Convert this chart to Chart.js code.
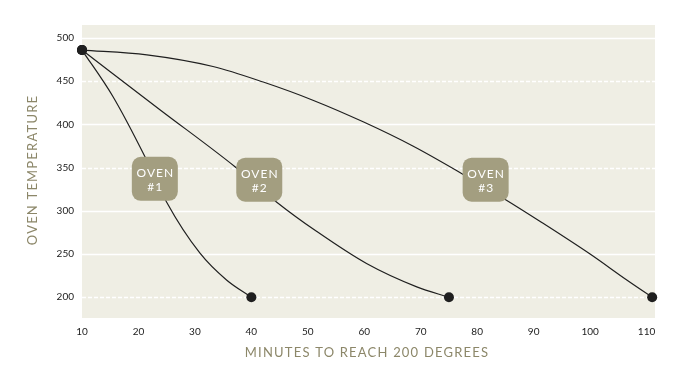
<!DOCTYPE html>
<html><head><meta charset="utf-8">
<script src="https://cdn.jsdelivr.net/npm/chart.js@4.4.1/dist/chart.umd.min.js"></script>
<style>html,body{margin:0;padding:0;background:#fff}#wrap{width:680px;height:383px;position:relative}</style>
</head><body><div id="wrap"><canvas id="c" width="680" height="383"></canvas></div>
<script>
// Tick labels
const xTicks = [10, 20, 30, 40, 50, 60, 70, 80, 90, 100, 110];
const yTicks = [200, 250, 300, 350, 400, 450, 500];
const dashedGrid = [200, 350, 450];

// Series (minutes, temperature)
const oven1X = [10, 15.5, 21.2, 25, 30.9, 35.6, 40];
const oven1Y = [486, 432, 362, 310, 251, 220, 200];
const oven2X = [10, 23.8, 37.1, 44.5, 51.6, 60.4, 69.3, 75];
const oven2Y = [486, 417, 351, 310, 276, 239, 212, 200];
const oven3X = [10, 21.5, 33.2, 42.1, 50.9, 59.8, 68.6, 77.3, 84.9, 91.1, 100, 106.5, 111];
const oven3Y = [486, 480.5, 467, 449, 428, 403, 375, 343, 313.5, 288, 250, 220, 200];

// Label boxes
const boxLine1 = ['OVEN', 'OVEN', 'OVEN'];
const boxLine2 = ['#1', '#2', '#3'];
const boxX = [22.9, 41.4, 81.5];
const boxY = [337, 336, 336];

const xTitle = 'MINUTES TO REACH 200 DEGREES';
const yTitle = 'OVEN TEMPERATURE';

const FONT = 'Lato, "Open Sans", sans-serif';
const toPts = (xs, ys) => xs.map((x, i) => ({x: x, y: ys[i]}));
const endRadius = n => Array.from({length: n}, (_, i) => (i === 0 || i === n - 1) ? 5 : 0);

function ds(xs, ys) {
  return {
    data: toPts(xs, ys),
    showLine: true,
    borderColor: '#1f1f1f',
    borderWidth: 1.2,
    backgroundColor: '#1f1f1f',
    pointBackgroundColor: '#1f1f1f',
    pointBorderWidth: 0,
    pointRadius: endRadius(xs.length),
    pointHoverRadius: endRadius(xs.length),
    cubicInterpolationMode: 'monotone',
    clip: false
  };
}

const decor = {
  id: 'decor',
  beforeDatasetsDraw(chart) {
    const {ctx, chartArea: a, scales: {y}} = chart;
    ctx.save();
    ctx.fillStyle = '#efeee4';
    ctx.fillRect(a.left, a.top, a.right - a.left, a.bottom - a.top);
    ctx.strokeStyle = '#ffffff';
    ctx.lineWidth = 1.5;
    yTicks.forEach(v => {
      const py = Math.round(y.getPixelForValue(v)) + 0.5;
      ctx.setLineDash(dashedGrid.includes(v) ? [4, 2] : []);
      ctx.beginPath();
      ctx.moveTo(a.left, py);
      ctx.lineTo(a.right, py);
      ctx.stroke();
    });
    ctx.restore();
  },
  afterDatasetsDraw(chart) {
    const {ctx, scales: {x, y}} = chart;
    ctx.save();
    boxX.forEach((bx, i) => {
      const cx = x.getPixelForValue(bx);
      const cy = y.getPixelForValue(boxY[i]);
      const w = 46, h = 44;
      ctx.fillStyle = '#a39e80';
      ctx.beginPath();
      ctx.roundRect(cx - w / 2, cy - h / 2, w, h, 9);
      ctx.fill();
      ctx.fillStyle = '#ffffff';
      ctx.font = '12px ' + FONT;
      ctx.letterSpacing = '1px';
      ctx.textAlign = 'center';
      ctx.textBaseline = 'middle';
      ctx.fillText(boxLine1[i], cx + 0.5, cy - 6);
      ctx.fillText(boxLine2[i], cx + 0.5, cy + 8);
    });
    ctx.restore();
  },
  afterDraw(chart) {
    const {ctx} = chart;
    ctx.save();
    ctx.fillStyle = '#8c8769';
    ctx.font = '13px ' + FONT;
    ctx.letterSpacing = '1.2px';
    ctx.textAlign = 'center';
    ctx.textBaseline = 'middle';
    ctx.fillText(xTitle, 367, 353);
    ctx.translate(33, 170);
    ctx.rotate(-Math.PI / 2);
    ctx.fillText(yTitle, 0, 0);
    ctx.restore();
  }
};

new Chart(document.getElementById('c'), {
  type: 'scatter',
  data: { datasets: [ds(oven1X, oven1Y), ds(oven2X, oven2Y), ds(oven3X, oven3Y)] },
  options: {
    responsive: false,
    animation: false,
    events: [],
    layout: { padding: { top: 25, right: 25, left: 0, bottom: 0 } },
    plugins: { legend: { display: false }, tooltip: { enabled: false } },
    scales: {
      x: {
        type: 'linear', min: 10, max: 111.5,
        afterBuildTicks: s => { s.ticks = xTicks.map(v => ({value: v})); },
        afterFit: s => { s.height = 65; },
        grid: { display: false, drawTicks: false },
        border: { display: false },
        ticks: { padding: 8, color: '#222', font: { family: FONT, size: 10 }, maxRotation: 0, autoSkip: false }
      },
      y: {
        type: 'linear', min: 176, max: 515,
        afterBuildTicks: s => { s.ticks = yTicks.map(v => ({value: v})); },
        afterFit: s => { s.width = 82; },
        grid: { display: false, drawTicks: false },
        border: { display: false },
        ticks: { padding: 8, color: '#222', font: { family: FONT, size: 10 }, autoSkip: false }
      }
    }
  },
  plugins: [decor]
});
</script>
</body></html>
